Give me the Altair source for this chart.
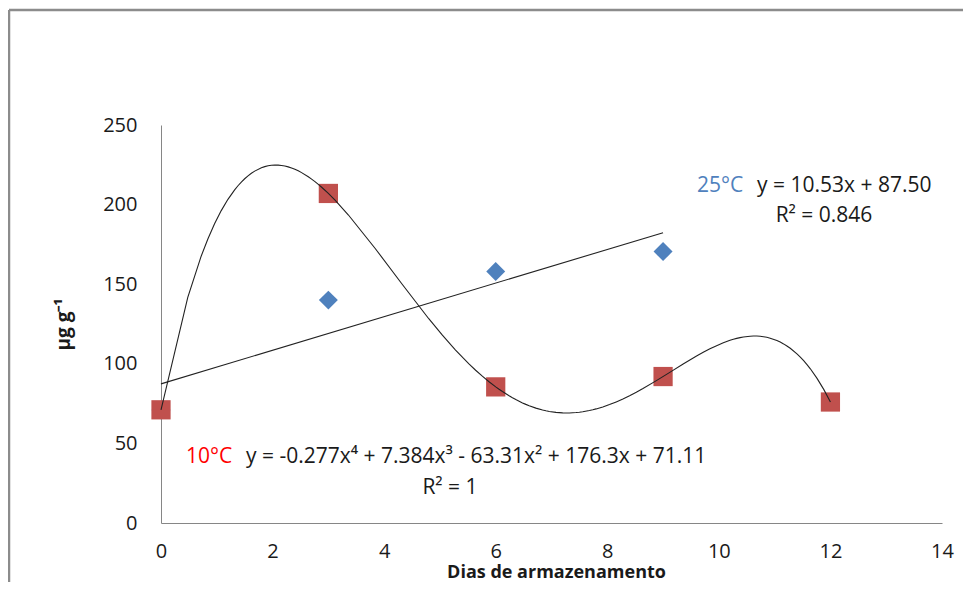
import altair as alt
import pandas as pd

# ---- data ----
days_10 = [0, 3, 6, 9, 12]
vals_10 = [71.1, 207, 85.5, 92, 76]
days_25 = [0, 3, 6, 9]
vals_25 = [71, 140, 158, 170.5]

x_ticks = [0, 2, 4, 6, 8, 10, 12, 14]
y_ticks = [0, 50, 100, 150, 200, 250]

df10 = pd.DataFrame({"dia": days_10, "valor": vals_10})
df25 = pd.DataFrame({"dia": days_25, "valor": vals_25})
one = pd.DataFrame({"k": [0]})

FONT = "Open Sans"
TXT = "#1a1a1a"
AX = "#868686"

xscale = alt.Scale(domain=[0, 14], nice=False, zero=False)
yscale = alt.Scale(domain=[0, 250], nice=False)

xax = alt.Axis(values=x_ticks, title="Dias de armazenamento", grid=False, ticks=False,
               tickSize=0, domainColor=AX, domainWidth=1, labelFlush=False,
               labelFont=FONT, labelFontSize=20, labelFontWeight="normal",
               labelPadding=18, labelColor=TXT,
               titleFont=FONT, titleFontWeight="bold", titleFontSize=18, titleColor=TXT,
               titleX=395, titleY=54, titleAlign="center", titleBaseline="alphabetic")
yax = alt.Axis(values=y_ticks, title="µg g⁻¹", grid=False, ticks=False, tickSize=0,
               domainColor=AX, domainWidth=1, labelFont=FONT, labelFontSize=20,
               labelFontWeight="normal", labelPadding=24, labelColor=TXT,
               titleFont=FONT, titleFontWeight="bold", titleFontSize=19, titleColor=TXT,
               titleAngle=270, titleX=-98, titleY=199, titleAlign="center",
               titleBaseline="middle")

X = alt.X("dia:Q", scale=xscale, axis=xax)
Y = alt.Y("valor:Q", scale=yscale, axis=yax)

diamonds = alt.Chart(df25).mark_point(shape="diamond", filled=True, size=360,
                                      color="#4F81BD", opacity=1).encode(x=X, y=Y)
squares = alt.Chart(df10).mark_point(shape="square", filled=True, size=370,
                                     color="#C0504D", opacity=1).encode(x=X, y=Y)

poly = alt.Chart(df10).transform_regression(
    "dia", "valor", method="poly", order=4, extent=[0, 12]
).mark_line(color="#222222", strokeWidth=1.1).encode(x=X, y=Y)

lin = alt.Chart(df25).transform_regression(
    "dia", "valor", method="linear", extent=[0, 9]
).mark_line(color="#222222", strokeWidth=1.1).encode(x=X, y=Y)


def label(text, x, y, color=TXT, align="left", size=21):
    return alt.Chart(one).mark_text(
        text=text, align=align, baseline="middle", font=FONT, fontSize=size,
        fontWeight="normal", color=color
    ).encode(x=alt.value(x), y=alt.value(y))


texts = [
    label("25°C", 536, 61, color="#4F81BD"),
    label("y = 10.53x + 87.50", 596, 61),
    label("R² = 0.846", 663, 91, align="center"),
    label("10°C", 25, 332, color="#FF0000"),
    label("y = -0.277x⁴ + 7.384x³ - 63.31x² + 176.3x + 71.11", 85, 332),
    label("R² = 1", 289, 363, align="center"),
]

frame_left = alt.Chart(one).mark_rule(color="#8c8c8c", strokeWidth=2.5).encode(
    x=alt.value(-152), y=alt.value(-115), y2=alt.value(470))
frame_top = alt.Chart(one).mark_rule(color="#8c8c8c", strokeWidth=2.5).encode(
    x=alt.value(-152), x2=alt.value(810), y=alt.value(-115))

chart = alt.layer(frame_left, frame_top, diamonds, squares, poly, lin, *texts).properties(
    width=781, height=398,
    autosize=alt.AutoSizeParams(type="none"),
    padding={"left": 153, "top": 117, "right": 21, "bottom": 59},
).configure_view(stroke=None)

chart.save("out.html", embed_options={"renderer": "svg", "actions": False})
